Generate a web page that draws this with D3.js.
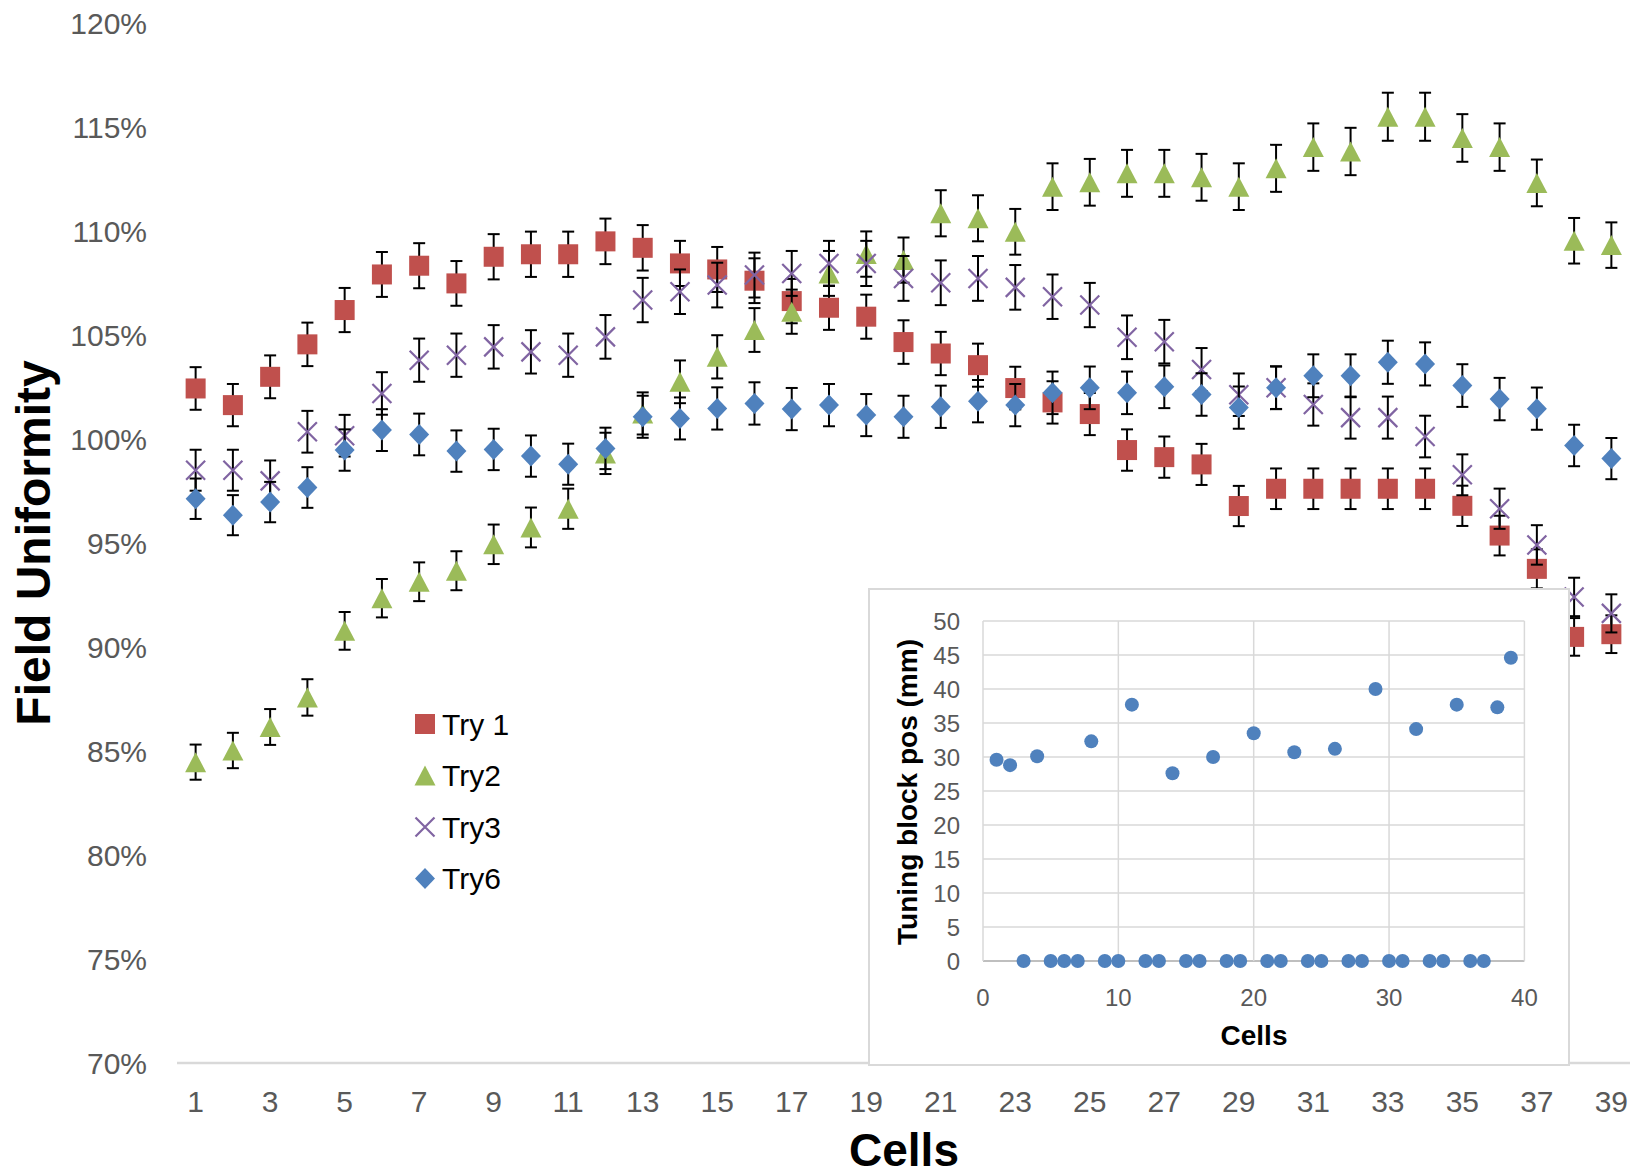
<!DOCTYPE html>
<html>
<head>
<meta charset="utf-8">
<script src="https://cdn.jsdelivr.net/npm/d3@7"></script>
<style>
  body { margin: 0; background: #fff; }
  svg { display: block; font-family: "Liberation Sans", Arial, sans-serif; }
</style>
</head>
<body>
<div id="chart"></div>
<script>
const SVG_W = 1644;
const SVG_H = 1175;
const ERR_FRAC = 0.01;   // error bars are 1% of value
const CAP = 6;

// main chart data (field uniformity, %)
var cells = d3.range(1, 40);
var try1 = [102.42, 101.62, 102.98, 104.54, 106.19, 107.9, 108.32, 107.47, 108.75, 108.87,
  108.87, 109.49, 109.18, 108.43, 108.14, 107.6, 106.62, 106.3, 105.87, 104.65,
  104.1, 103.54, 102.44, 101.75, 101.19, 99.46, 99.12, 98.77, 96.77, 97.6,
  97.6, 97.6, 97.6, 97.6, 96.78, 95.35, 93.75, 90.48, 90.61];
var try2 = [84.46, 85.02, 86.15, 87.57, 90.77, 92.34, 93.13, 93.66, 94.93, 95.74,
  96.64, 99.3, 101.22, 102.74, 103.94, 105.23, 106.11, 107.95, 108.88, 108.59,
  110.84, 110.6, 109.95, 112.12, 112.33, 112.76, 112.76, 112.57, 112.12, 113.0,
  114.02, 113.81, 115.48, 115.48, 114.46, 114.02, 112.3, 109.52, 109.31];
var try3 = [98.49, 98.49, 97.98, 100.34, 100.15, 102.18, 103.78, 104.02, 104.42, 104.18,
  104.02, 104.9, 106.67, 107.07, 107.39, 107.87, 107.95, 108.43, 108.43, 107.71,
  107.5, 107.71, 107.28, 106.83, 106.43, 104.88, 104.67, 103.33, 102.12, 102.45,
  101.65, 101.02, 101.02, 100.11, 98.27, 96.64, 94.9, 92.4, 91.61];
var try6 = [97.12, 96.33, 96.96, 97.66, 99.46, 100.42, 100.21, 99.41, 99.49, 99.17,
  98.78, 99.54, 101.06, 100.98, 101.46, 101.7, 101.43, 101.62, 101.14, 101.06,
  101.54, 101.81, 101.62, 102.21, 102.45, 102.21, 102.5, 102.13, 101.5, 102.46,
  103.03, 103.03, 103.68, 103.6, 102.56, 101.91, 101.45, 99.68, 99.05];
var yTicks = [70, 75, 80, 85, 90, 95, 100, 105, 110, 115, 120];
var xTickCells = d3.range(1, 40, 2);

// inset data (tuning block position, mm)
var tuningPos = [29.6, 28.8, 0, 30.1, 0, 0, 0, 32.3, 0, 0,
  37.7, 0, 0, 27.6, 0, 0, 30, 0, 0, 33.5,
  0, 0, 30.7, 0, 0, 31.2, 0, 0, 40, 0,
  0, 34.1, 0, 0, 37.7, 0, 0, 37.3, 44.6];
var insetYTicks = d3.range(0, 51, 5);
var insetXTicks = [0, 10, 20, 30, 40];

var series = [
  { name: "Try 1", values: try1, color: "#C0504D", shape: "square" },
  { name: "Try2", values: try2, color: "#9BBB59", shape: "triangle" },
  { name: "Try3", values: try3, color: "#8064A2", shape: "cross" },
  { name: "Try6", values: try6, color: "#4F81BD", shape: "diamond" }
];

var svg = d3.select("#chart").append("svg")
  .attr("width", SVG_W)
  .attr("height", SVG_H);

var x = d3.scaleBand().domain(cells).range([177, 1630]).padding(0);
var y = d3.scaleLinear().domain([70, 120]).range([1063, 22.7]);
var cx = d => x(d) + x.bandwidth() / 2;

// marker drawing
var drawMarker = (g, shape, color) => {
  if (shape == "square") {
    g.append("rect").attr("x", -10).attr("y", -10).attr("width", 20).attr("height", 20).attr("fill", color);
  } else if (shape == "triangle") {
    g.append("path").attr("d", "M0,-10L10.5,10L-10.5,10Z").attr("fill", color);
  } else if (shape == "diamond") {
    g.append("path").attr("d", "M0,-10.5L10,0L0,10.5L-10,0Z").attr("fill", color);
  } else {
    g.append("path").attr("d", "M-9.5,-9.5L9.5,9.5M-9.5,9.5L9.5,-9.5")
      .attr("stroke", color).attr("stroke-width", 2.2).attr("fill", "none");
  }
}

// x axis line
svg.append("line")
  .attr("x1", 177).attr("x2", 1630)
  .attr("y1", y(70)).attr("y2", y(70))
  .attr("stroke", "#d9d9d9").attr("stroke-width", 2.5);

// y tick labels
svg.selectAll("text.ytick")
  .data(yTicks)
  .enter()
  .append("text")
  .attr("class", "ytick")
  .attr("x", 147)
  .attr("y", d => y(d))
  .attr("dy", "0.36em")
  .attr("text-anchor", "end")
  .attr("font-size", 30)
  .attr("fill", "#595959")
  .text(d => d + "%");

// x tick labels
svg.selectAll("text.xtick")
  .data(xTickCells)
  .enter()
  .append("text")
  .attr("class", "xtick")
  .attr("x", d => cx(d))
  .attr("y", 1101)
  .attr("dy", "0.36em")
  .attr("text-anchor", "middle")
  .attr("font-size", 30)
  .attr("fill", "#595959")
  .text(d => d);

// axis titles
svg.append("text")
  .attr("transform", "translate(50,543) rotate(-90)")
  .attr("text-anchor", "middle")
  .attr("font-size", 48)
  .attr("font-weight", "bold")
  .text("Field Uniformity");

svg.append("text")
  .attr("x", 904)
  .attr("y", 1166)
  .attr("text-anchor", "middle")
  .attr("font-size", 46)
  .attr("font-weight", "bold")
  .text("Cells");

// series: error bars then markers
series.forEach(s => {
  var g = svg.append("g");
  var pts = s.values.map((v, i) => ({ cell: cells[i], v: v, e: v * ERR_FRAC }));

  var eb = g.selectAll("g.err").data(pts).enter().append("g").attr("class", "err");
  eb.append("line")
    .attr("x1", d => cx(d.cell)).attr("x2", d => cx(d.cell))
    .attr("y1", d => y(d.v + d.e)).attr("y2", d => y(d.v - d.e))
    .attr("stroke", "#000").attr("stroke-width", 2);
  eb.append("line")
    .attr("x1", d => cx(d.cell) - CAP).attr("x2", d => cx(d.cell) + CAP)
    .attr("y1", d => y(d.v + d.e)).attr("y2", d => y(d.v + d.e))
    .attr("stroke", "#000").attr("stroke-width", 2);
  eb.append("line")
    .attr("x1", d => cx(d.cell) - CAP).attr("x2", d => cx(d.cell) + CAP)
    .attr("y1", d => y(d.v - d.e)).attr("y2", d => y(d.v - d.e))
    .attr("stroke", "#000").attr("stroke-width", 2);

  g.selectAll("g.mk").data(pts).enter().append("g")
    .attr("class", "mk")
    .attr("transform", d => "translate(" + cx(d.cell) + "," + y(d.v) + ")")
    .each(function () { drawMarker(d3.select(this), s.shape, s.color); });
});

// legend
var legend = svg.append("g").selectAll("g.lg")
  .data(series)
  .enter()
  .append("g")
  .attr("class", "lg")
  .attr("transform", (d, i) => "translate(425," + (724 + i * 51.5) + ")");
legend.each(function (d) { drawMarker(d3.select(this), d.shape, d.color); });
legend.append("text")
  .attr("x", 17)
  .attr("dy", "0.36em")
  .attr("font-size", 30)
  .attr("fill", "#000")
  .text(d => d.name);

// inset chart
var inset = svg.append("g");
inset.append("rect")
  .attr("x", 869).attr("y", 589)
  .attr("width", 700).attr("height", 476)
  .attr("fill", "#fff")
  .attr("stroke", "#d9d9d9").attr("stroke-width", 2);

var ix = d3.scaleLinear().domain([0, 40]).range([983, 1524.4]);
var iy = d3.scaleLinear().domain([0, 50]).range([961, 621]);

inset.selectAll("line.hgrid")
  .data(insetYTicks)
  .enter()
  .append("line")
  .attr("class", "hgrid")
  .attr("x1", ix(0)).attr("x2", ix(40))
  .attr("y1", d => iy(d)).attr("y2", d => iy(d))
  .attr("stroke", d => d == 0 ? "#bfbfbf" : "#d9d9d9")
  .attr("stroke-width", d => d == 0 ? 2 : 1.5);

inset.selectAll("line.vgrid")
  .data(insetXTicks)
  .enter()
  .append("line")
  .attr("class", "vgrid")
  .attr("x1", d => ix(d)).attr("x2", d => ix(d))
  .attr("y1", iy(0)).attr("y2", iy(50))
  .attr("stroke", "#d9d9d9").attr("stroke-width", 1.5);

inset.selectAll("text.iytick")
  .data(insetYTicks)
  .enter()
  .append("text")
  .attr("class", "iytick")
  .attr("x", 960)
  .attr("y", d => iy(d))
  .attr("dy", "0.36em")
  .attr("text-anchor", "end")
  .attr("font-size", 24)
  .attr("fill", "#595959")
  .text(d => d);

inset.selectAll("text.ixtick")
  .data(insetXTicks)
  .enter()
  .append("text")
  .attr("class", "ixtick")
  .attr("x", d => ix(d))
  .attr("y", 997)
  .attr("dy", "0.36em")
  .attr("text-anchor", "middle")
  .attr("font-size", 24)
  .attr("fill", "#595959")
  .text(d => d);

inset.append("text")
  .attr("transform", "translate(917,792) rotate(-90)")
  .attr("text-anchor", "middle")
  .attr("font-size", 28)
  .attr("font-weight", "bold")
  .text("Tuning block pos (mm)");

inset.append("text")
  .attr("x", 1254)
  .attr("y", 1045)
  .attr("text-anchor", "middle")
  .attr("font-size", 28)
  .attr("font-weight", "bold")
  .text("Cells");

inset.selectAll("circle.dot")
  .data(tuningPos)
  .enter()
  .append("circle")
  .attr("class", "dot")
  .attr("cx", (d, i) => ix(cells[i]))
  .attr("cy", d => iy(d))
  .attr("r", 7)
  .attr("fill", "#4F81BD");
</script>
</body>
</html>
